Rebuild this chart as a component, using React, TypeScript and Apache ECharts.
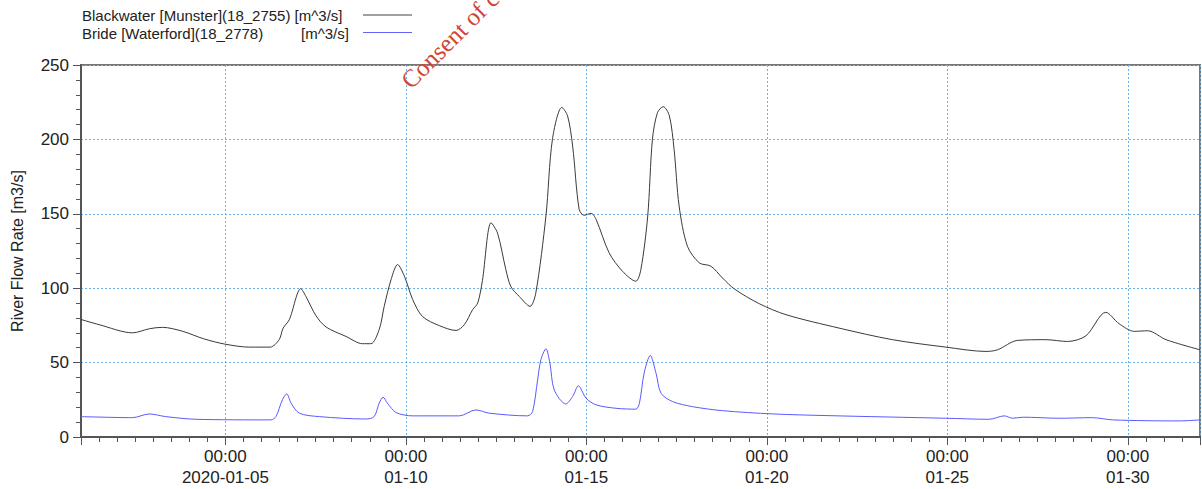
import React, { useEffect, useRef } from "react";
import * as echarts from "echarts";

// Time values are "day of January 2020" (1 = 2020-01-01 00:00, 32 = 2020-02-01 00:00)
const blackwaterDays = [
  1, 1.5, 2.43, 2.9, 3.26, 3.82, 4.4, 4.99, 5.66, 6.24, 6.49, 6.6, 6.77, 7.09, 7.23, 7.51, 7.79,
  8.34, 8.8, 9.03, 9.26, 9.4, 9.59, 9.77, 9.96, 10.19, 10.46, 10.93, 11.39, 11.62, 11.85, 11.99,
  12.12, 12.36, 12.54, 12.77, 12.91, 13.14, 13.44, 13.6, 13.88, 14.06, 14.32, 14.48, 14.62, 14.8,
  14.94, 15.13, 15.27, 15.63, 16.0, 16.37, 16.51, 16.7, 16.83, 16.97, 17.13, 17.3, 17.43, 17.57,
  17.8, 18.13, 18.45, 18.77, 19.1, 19.79, 20.53, 22.0, 23.48, 24.96, 26.07, 26.39, 26.94, 27.73,
  28.33, 28.84, 29.39, 29.76, 30.18, 30.55, 31.06, 32.0,
];
const blackwaterFlow = [
  79, 75.5, 70, 72.8, 73.7, 71, 66, 62.4, 60.4, 60.4, 65.4, 73.2, 78.8, 99.7, 94.5, 81.5, 73.9,
  67.6, 62.7, 62.7, 72.1, 87.8, 105.8, 115.9, 108, 92.3, 81, 74.8, 71.6, 75.5, 85.6, 90,
  105, 144, 137, 112.5, 101, 94.5, 87.8, 96.8, 148.5, 200, 221.5, 215.8, 195.6, 153,
  149, 150.3, 146.2, 123.8, 111.4, 104.7, 112.5, 148.5, 200, 218, 222, 215.8, 193.4, 155.2,
  128.2, 117, 114.8, 106.9, 99.5, 89.6, 82.2, 73.2, 65.4, 60.4, 57.5, 58.6, 64.9, 65.4,
  64.2, 68, 83.8, 76.1, 71, 71.4, 65.4, 58.6,
];

const brideDays = [
  1, 2.43, 2.89, 3.35, 4.19, 6.26, 6.4, 6.58, 6.7, 6.82, 7.05, 7.6, 8.89, 9.12, 9.26, 9.37,
  9.49, 9.73, 10.19, 11.48, 11.94, 12.31, 13.37, 13.51, 13.65, 13.74, 13.88, 13.99, 14.11, 14.43,
  14.62, 14.78, 14.99, 15.27, 15.82, 16.37, 16.47, 16.6, 16.77, 16.93, 17.07, 17.39, 17.94, 18.77,
  20.16, 21.64, 24.96, 26.16, 26.58, 26.81, 27.1, 28.1, 29.02, 29.58, 31.42, 32.0,
];
const brideFlow = [
  13.7, 13, 15.5, 13.7, 11.9, 11.5, 13.7, 25, 29, 22.7, 16, 13.7, 12.1, 13.7, 22.7, 26.7,
  22.7, 16.4, 14.2, 14.2, 18.2, 16, 14.2, 17, 38.4, 51.9, 59.3, 49.7, 31.7, 22.2,
  27.2, 34.4, 26.1, 21.6, 19.3, 18.7, 22.7, 42.9, 54.8, 42.9, 29.4, 23.8, 20.4, 17.7,
  15.5, 14.4, 12.6, 11.9, 14.2, 12.6, 13.3, 12.6, 13, 11.5, 10.8, 11.5,
];

const seriesNames = ["Blackwater [Munster](18_2755) [m^3/s]", "Bride [Waterford](18_2778)"];
const unitLabel = "[m^3/s]";
const yAxisTitle = "River Flow Rate [m3/s]";
const watermark = "Consent of copyright owner required for any other use.";

const FONT = "'Liberation Sans', Arial, sans-serif";

function pad(n: number) {
  return n < 10 ? "0" + n : "" + n;
}

export default function App() {
  const ref = useRef<HTMLDivElement>(null);
  useEffect(() => {
    if (!ref.current) return;
    const chart = echarts.init(ref.current, null, { renderer: "svg" });
    const black = blackwaterDays.map((d, i) => [d, blackwaterFlow[i]]);
    const blue = brideDays.map((d, i) => [d, brideFlow[i]]);
    const textStyle = (text: string, size: number) => ({
      text,
      fontSize: size,
      fontFamily: FONT,
      fill: "#222",
      align: "left",
      verticalAlign: "middle",
      textAlign: "left",
      textVerticalAlign: "middle",
    });
    chart.setOption({
      animation: false,
      backgroundColor: "#ffffff",
      grid: {
        left: 81,
        right: 2,
        top: 65,
        bottom: 52,
        containLabel: false,
        outerBoundsMode: "none",
        show: true,
        borderColor: "#777",
        borderWidth: 2,
        backgroundColor: "transparent",
      },
      xAxis: {
        type: "value",
        min: 1,
        max: 32,
        splitNumber: 6,
        axisLine: { show: true, lineStyle: { color: "#555", width: 2 } },
        axisTick: { show: true, inside: false, length: 8, lineStyle: { color: "#555" } },
        minorTick: { show: true, splitNumber: 10, length: 5, lineStyle: { color: "#555" } },
        splitLine: { show: true, lineStyle: { color: "#6ab2f2", type: [2, 2], width: 1 } },
        axisLabel: {
          showMinLabel: false,
          showMaxLabel: false,
          margin: 9,
          color: "#222",
          fontSize: 17,
          fontFamily: FONT,
          lineHeight: 21,
          formatter: (v: number) => {
            const d = Math.round(v);
            if (d === 5) return "00:00\n2020-01-" + pad(d);
            return "00:00\n01-" + pad(d);
          },
        },
      },
      yAxis: {
        type: "value",
        min: 0,
        max: 250,
        interval: 50,
        name: yAxisTitle,
        nameLocation: "middle",
        nameGap: 56,
        nameTextStyle: { color: "#222", fontSize: 16, fontFamily: FONT },
        axisLine: { show: true, lineStyle: { color: "#555", width: 2 } },
        axisTick: { show: true, inside: false, length: 8, lineStyle: { color: "#555" } },
        minorTick: { show: true, splitNumber: 5, length: 5, lineStyle: { color: "#555" } },
        splitLine: { show: true, lineStyle: { color: "#6ab2f2", type: [2, 2], width: 1 } },
        axisLabel: { margin: 12, color: "#222", fontSize: 17, fontFamily: FONT },
      },
      series: [
        {
          name: seriesNames[0],
          type: "line",
          data: black,
          showSymbol: false,
          smooth: 0.3,
          lineStyle: { color: "#3a3a3a", width: 1 },
          itemStyle: { color: "#3a3a3a" },
        },
        {
          name: seriesNames[1],
          type: "line",
          data: blue,
          showSymbol: false,
          smooth: 0.3,
          lineStyle: { color: "#5a5aff", width: 1 },
          itemStyle: { color: "#5a5aff" },
        },
      ],
      graphic: [
        { type: "text", x: 82, y: 15, style: textStyle(seriesNames[0], 15) },
        { type: "text", x: 82, y: 33, style: textStyle(seriesNames[1], 15) },
        { type: "text", x: 301, y: 33, style: textStyle(unitLabel, 15) },
        {
          type: "line",
          shape: { x1: 363, y1: 15, x2: 412, y2: 15 },
          style: { stroke: "#a0a0a0", lineWidth: 2 },
        },
        {
          type: "line",
          shape: { x1: 363, y1: 32.5, x2: 412, y2: 32.5 },
          style: { stroke: "#6464ff", lineWidth: 1 },
        },
        {
          type: "text",
          x: 414,
          y: 93,
          rotation: Math.PI / 4,
          z: 100,
          style: {
            text: watermark,
            fontSize: 25,
            fontFamily: "'Liberation Serif', 'Times New Roman', serif",
            fill: "#d2452f",
            align: "left",
            verticalAlign: "bottom",
            textAlign: "left",
            textVerticalAlign: "bottom",
          },
        },
      ],
    });
    return () => chart.dispose();
  }, []);
  return (
    <div
      ref={ref}
      style={{ position: "fixed", left: 0, top: 0, width: 1202, height: 489, background: "#fff" }}
    />
  );
}
